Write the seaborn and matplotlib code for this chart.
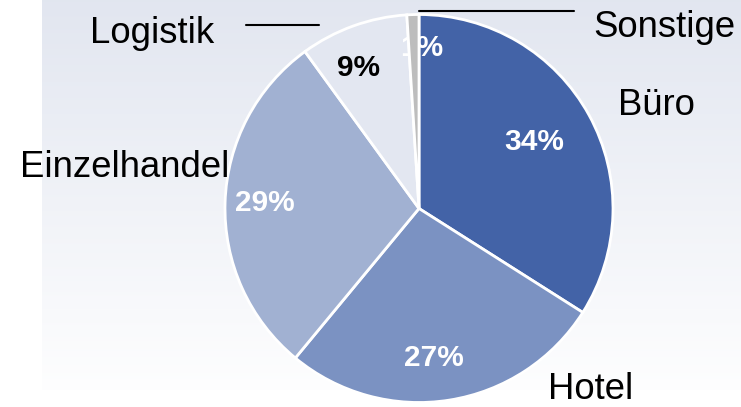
import numpy as np
import matplotlib
matplotlib.use("Agg")
import matplotlib.pyplot as plt
import seaborn as sns

sns.set_theme(style="white")
plt.rcParams["font.family"] = ["Liberation Sans", "DejaVu Sans"]

# ---- Daten ----
categories = ["Büro", "Hotel", "Einzelhandel", "Logistik", "Sonstige"]
shares = [34, 27, 29, 9, 1]
pct_labels = ["34%", "27%", "29%", "9%", "1%"]
colors = ["#4363a7", "#7b92c2", "#a1b1d2", "#e3e7f1", "#bdbdbd"]
pct_colors = ["white", "white", "white", "black", "white"]

W, H = 741, 407

# Layout (Pixelkoordinaten, y von oben)
cat_pos = {"Büro": (618, 115), "Hotel": (548, 399), "Einzelhandel": (20, 177),
           "Logistik": (90, 43), "Sonstige": (593, 37)}
pct_pos = [(534, 150), (434, 366), (265, 211), (358, 76), (422, 56)]
leaders = [((246, 319), 25), ((419, 574), 10.5)]


def py(y):
    return H - y


fig = plt.figure(figsize=(W / 100, H / 100), dpi=100)
ax = fig.add_axes([0, 0, 1, 1])
ax.set_xlim(0, W)
ax.set_ylim(0, H)
ax.set_aspect("equal")
ax.axis("off")

# Hintergrund mit Verlauf
top = np.array([0.886, 0.902, 0.941])
bot = np.array([0.995, 0.996, 0.998])
t = np.linspace(0, 1, 256)[:, None]
grad = (top * (1 - t) + bot * t)[:, None, :]
ax.imshow(grad, extent=[42, W, py(390), H], aspect="auto", zorder=0,
          interpolation="bilinear")

wedges, _ = ax.pie(shares, colors=colors, startangle=90, counterclock=False,
                   center=(419, py(208.5)), radius=194, frame=True,
                   wedgeprops=dict(edgecolor="white", linewidth=2))
for i, w in enumerate(wedges):
    w.set_zorder(5 if categories[i] == "Sonstige" else 2)
ax.set_xlim(0, W)
ax.set_ylim(0, H)
ax.axis("off")

for lab, col, (x, y) in zip(pct_labels, pct_colors, pct_pos):
    ax.text(x, py(y), lab, ha="center", va="baseline", fontsize=21.5,
            fontweight="bold", color=col, zorder=4)

for cat in categories:
    x, y = cat_pos[cat]
    ax.text(x, py(y), cat, ha="left", va="baseline", fontsize=26.3,
            color="black", zorder=6)

for (x0, x1), y in leaders:
    ax.plot([x0, x1], [py(y), py(y)], color="black", lw=1.5, zorder=6)

fig.savefig("out.png", dpi=100)
